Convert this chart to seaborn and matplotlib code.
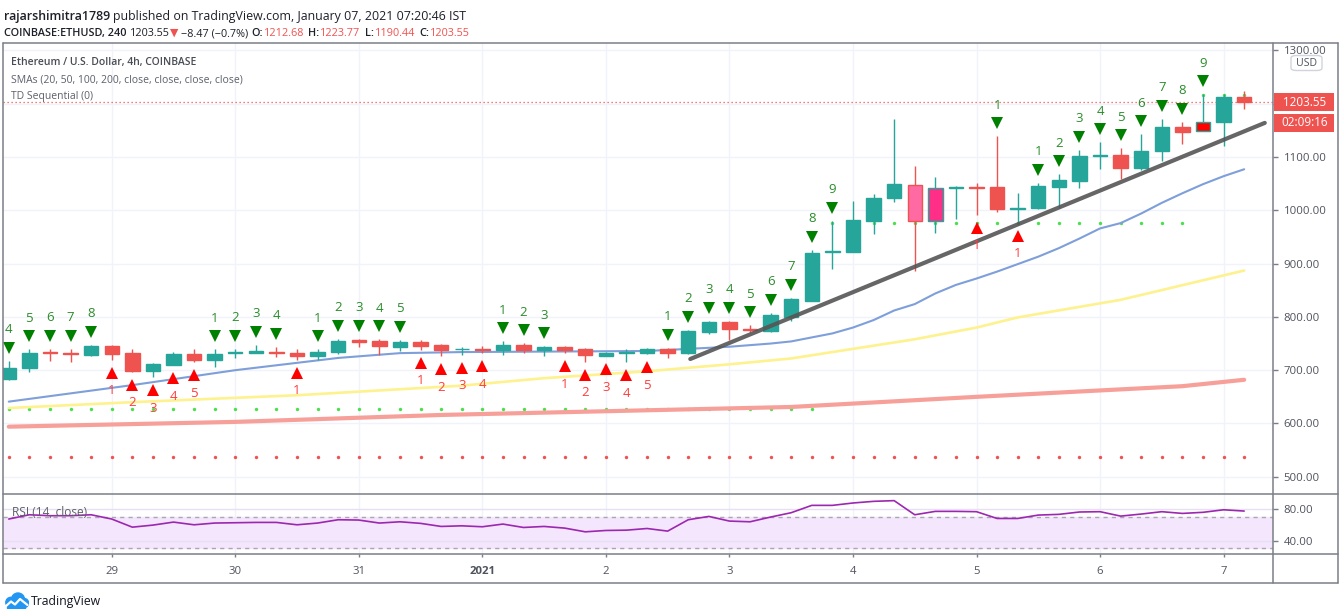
import numpy as np
import pandas as pd
import matplotlib
matplotlib.use("Agg")
import matplotlib.pyplot as plt
import matplotlib.transforms as mtransforms
from matplotlib.lines import Line2D
from matplotlib.patches import Rectangle, FancyBboxPatch, Circle
import seaborn as sns

# ---- values: COINBASE ETHUSD, 4h candles ----
opens = [683, 704, 734, 732, 729, 745, 732, 699, 710, 731,
         720, 732, 733, 735, 733, 726, 734, 757, 754, 744,
         753, 747, 739, 740, 738, 748, 738, 744, 739, 727,
         733, 732, 739, 732, 772, 790, 778, 774, 800, 830,
         921, 922, 980, 1023, 1048, 979, 1042, 1044, 1043, 1003,
         1004, 1044, 1055, 1101, 1104, 1079, 1111, 1157, 1149, 1165,
         1212.68]
highs = [718, 739, 740, 740, 748, 748, 739, 714, 735, 739,
         739, 740, 748, 744, 739, 739, 759, 759, 758, 757,
         756, 750, 744, 746, 754, 751, 745, 746, 741, 734,
         740, 742, 742, 776, 793, 793, 784, 808, 836, 926,
         980, 1017, 1030, 1171, 1083, 1062, 1046, 1052, 1139, 1032,
         1052, 1068, 1114, 1128, 1116, 1143, 1172, 1166, 1218, 1219,
         1223.77]
lows = [681, 697, 718, 716, 727, 720, 697, 687, 709, 715,
        706, 722, 732, 724, 720, 720, 731, 744, 729, 736,
        738, 726, 729, 732, 729, 732, 727, 732, 716, 726,
        715, 730, 723, 730, 768, 756, 771, 771, 793, 829,
        889, 921, 955, 1016, 886, 958, 983, 992, 996, 977,
        1003, 1005, 1041, 1077, 1058, 1075, 1093, 1124, 1148, 1120,
        1190.44]
closes = [705, 733, 732, 730, 745, 730, 699, 711, 731, 719,
          731, 735, 736, 733, 726, 735, 754, 753, 745, 752,
          746, 737, 740, 738, 748, 738, 744, 738, 729, 733,
          735, 739, 732, 773, 790, 777, 775, 803, 833, 920,
          923, 981, 1024, 1049, 979, 1042, 1044, 1042, 1003, 1005,
          1045, 1057, 1101, 1104, 1079, 1111, 1157, 1147, 1166, 1213,
          1203.55]

# moving averages (read at a few candles)
sma20_idx = [0, 6, 11, 16, 19, 22, 31, 35, 37, 38, 40, 41, 42, 43, 44, 45, 46,
             47, 48, 49, 50, 51, 52, 53, 54, 55, 56, 57, 58, 59, 60]
sma20_val = [641, 672, 700, 723, 732, 734, 736, 744, 750, 754, 769, 780, 794,
             812, 824, 844, 860, 872, 885, 899, 913, 929, 947, 966, 976, 994,
             1014, 1032, 1049, 1064, 1077]
sma50_idx = [0, 6, 14, 22, 26, 31, 35, 38, 41, 44, 47, 49, 54, 60]
sma50_val = [629, 640, 653, 671, 685, 698, 711, 722, 740, 758, 780, 799, 832, 887]
sma100_idx = [0, 11, 21, 29, 38, 47, 57, 60]
sma100_val = [594, 603, 616, 623, 631, 650, 670, 682]

# hand-drawn trend line
trend_idx = [33.1, 61.0]
trend_val = [721, 1164]

# TD Sequential setup counts
sell_idx = [0, 1, 2, 3, 4, 10, 11, 12, 13, 15, 16, 17, 18, 19, 24, 25, 26,
            32, 33, 34, 35, 36, 37, 38, 39, 40, 48,
            50, 51, 52, 53, 54, 55, 56, 57, 58]
sell_count = [4, 5, 6, 7, 8, 1, 2, 3, 4, 1, 2, 3, 4, 5, 1, 2, 3,
              1, 2, 3, 4, 5, 6, 7, 8, 9, 1,
              1, 2, 3, 4, 5, 6, 7, 8, 9]
buy_idx = [5, 6, 7, 8, 9, 14, 20, 21, 22, 23, 27, 28, 29, 30, 31, 47, 49]
buy_count = [1, 2, 3, 4, 5, 1, 1, 2, 3, 4, 1, 2, 3, 4, 5, 1, 1]

# TDST support / resistance levels
tdst_start = [0, 0, 40, 58]
tdst_end = [39, 60, 57, 60]
tdst_price = [627, 538, 977, 1216]
tdst_side = ["sell", "buy", "sell", "sell"]

rsi = [67.3, 72.7, 71.5, 71.5, 72.7, 67.3, 57.0, 59.6, 63.4, 60.0,
       62.2, 62.6, 63.0, 63.0, 60.0, 62.2, 66.4, 66.0, 62.2, 63.8,
       61.8, 57.9, 58.7, 57.5, 60.9, 56.6, 57.9, 55.8, 51.1, 52.8,
       53.2, 55.3, 52.0, 66.4, 70.6, 64.7, 63.8, 69.8, 75.3, 84.6,
       84.6, 87.6, 89.7, 90.6, 72.7, 77.0, 77.0, 76.6, 68.0, 68.0,
       72.3, 73.2, 76.2, 76.6, 71.0, 73.6, 76.6, 74.4, 75.8, 79.0,
       77.4]

date_idx = [5, 11, 17, 23, 29, 35, 41, 47, 53, 59]
date_labels = ["29", "30", "31", "2021", "2", "3", "4", "5", "6", "7"]
price_ticks = [500, 600, 700, 800, 900, 1000, 1100, 1200, 1300]
rsi_ticks = [40, 80]

# ---- styling ----
UP, DOWN = "#26a69a", "#ef5350"
GRID = "#f0f3fa"
FRAME = "#7b7e88"
AXTXT = "#50535e"
fill_override = {44: "#ff6aa3", 45: "#ff2e86", 58: "#ff0000"}

sns.set_theme(style="white")
plt.rcParams["font.family"] = ["Open Sans", "DejaVu Sans"]

W, H = 1342, 611
fig = plt.figure(figsize=(W / 100, H / 100), dpi=100)
fig.patch.set_facecolor("white")


def fx(x):
    return x / W


def fy(y):
    return 1 - y / H


candles = pd.DataFrame({"open": opens, "high": highs, "low": lows, "close": closes})
n = len(candles)

ax = fig.add_axes([fx(3), fy(494), fx(1273) - fx(3), fy(43) - fy(494)])
rax = fig.add_axes([fx(3), fy(554), fx(1273) - fx(3), fy(494) - fy(554)])
for a in (ax, rax):
    a.set_facecolor("white")
    a.set_xlim(-0.28, 61.4)
    for s in a.spines.values():
        s.set_visible(False)
    for d in date_idx:
        a.axvline(d, color=GRID, lw=1, zorder=0)

# ---- main price panel ----
ax.set_ylim(467.7, 1313.9)
for v in price_ticks:
    ax.axhline(v, color=GRID, lw=1, zorder=0)

# TDST dotted levels
for s, e, p, side in zip(tdst_start, tdst_end, tdst_price, tdst_side):
    xs = np.arange(s, e + 1)
    sns.scatterplot(x=xs, y=[p] * len(xs), color="#4be04b" if side == "sell" else "#f05252",
                    s=6, linewidth=0, ax=ax, zorder=1, legend=False)

# moving averages
sns.lineplot(x=sma100_idx, y=sma100_val, color="#f7a09a", linewidth=3.0, ax=ax, zorder=2)
sns.lineplot(x=sma50_idx, y=sma50_val, color="#fdf28e", linewidth=1.9, ax=ax, zorder=2)
sns.lineplot(x=sma20_idx, y=sma20_val, color="#7e9fd9", linewidth=1.5, ax=ax, zorder=2)

# last price line
ax.axhline(closes[-1], color=DOWN, lw=0.9, ls=(0, (1, 2.2)), zorder=2)

# candles
for i, row in candles.iterrows():
    col = UP if row.close >= row.open else DOWN
    ax.vlines(i, row.low, row.high, color=col, lw=1, zorder=3)
    lo, hi = sorted((row.open, row.close))
    ax.add_patch(Rectangle((i - 0.35, lo), 0.7, hi - lo, facecolor=fill_override.get(i, col),
                           edgecolor=col, lw=1, zorder=4))

# trend line
ax.plot(trend_idx, trend_val, color="#555555", lw=3.0, alpha=0.9, solid_capstyle="round", zorder=5)

# TD sequential markers
tri_up = mtransforms.offset_copy(ax.transData, fig=fig, y=13, units="dots")
num_up = mtransforms.offset_copy(ax.transData, fig=fig, y=31, units="dots")
tri_dn = mtransforms.offset_copy(ax.transData, fig=fig, y=-13, units="dots")
num_dn = mtransforms.offset_copy(ax.transData, fig=fig, y=-31, units="dots")

sell_hi = [highs[i] for i in sell_idx]
ax.plot(sell_idx, sell_hi, "v", color="#008000", ms=8.5, mew=0, transform=tri_up, zorder=6)
for i, c, h in zip(sell_idx, sell_count, sell_hi):
    ax.text(i, h, str(c), transform=num_up, ha="center", va="center", color="#2a8c2a",
            fontsize=9.5, zorder=6, clip_on=True)

buy_lo = [lows[i] for i in buy_idx]
ax.plot(buy_idx, buy_lo, "^", color="#ff0000", ms=8.5, mew=0, transform=tri_dn, zorder=6)
for i, c, l in zip(buy_idx, buy_count, buy_lo):
    ax.text(i, l, str(c), transform=num_dn, ha="center", va="center", color="#ff3c3c",
            fontsize=9.5, zorder=6, clip_on=True)

ax.set_xticks([])
ax.yaxis.tick_right()
ax.set_yticks(price_ticks)
# the 1200 label sits under the last-price box, as on the original
ax.set_yticklabels(["" if v == 1200 else f"{v:.2f}" for v in price_ticks])
ax.tick_params(axis="y", which="both", right=True, left=False, length=3.6, width=1,
               color=FRAME, labelsize=8.2, labelcolor=AXTXT, pad=4)

# ---- RSI panel ----
rax.set_ylim(23, 99)
rax.axhspan(30, 70, color="#f3e6fd", zorder=0)
for v in rsi_ticks:
    rax.axhline(v, color="#e6e0f2", lw=1, zorder=1)
for v in (70, 30):
    rax.axhline(v, color="#a9a7b0", lw=1, ls=(0, (3, 3)), zorder=1)
sns.lineplot(x=np.arange(n), y=rsi, color="#9c27b0", linewidth=1.2, ax=rax, zorder=3)

rax.yaxis.tick_right()
rax.set_yticks(rsi_ticks)
rax.set_yticklabels([f"{v:.2f}" for v in rsi_ticks])
rax.set_xticks(date_idx)
rax.set_xticklabels(date_labels)
rax.tick_params(axis="y", right=True, left=False, length=3.6, width=1, color=FRAME,
                labelsize=8.2, labelcolor=AXTXT, pad=4)
rax.tick_params(axis="x", bottom=True, length=2.5, width=1, color=FRAME,
                labelsize=8.2, labelcolor=AXTXT, pad=6)
for lbl in rax.get_xticklabels():
    if lbl.get_text() == "2021":
        lbl.set_fontweight("bold")
for a in (ax, rax):
    a.set_xlabel("")
    a.set_ylabel("")

# ---- frame lines ----
frame = [((3, 43), (1338, 43)), ((3, 583), (1338, 583)), ((3, 43), (3, 583)),
         ((1338, 43), (1338, 583)), ((1273, 43), (1273, 583)),
         ((3, 494), (1338, 494)), ((3, 554), (1338, 554))]
for (x0, y0), (x1, y1) in frame:
    fig.add_artist(Line2D([fx(x0), fx(x1)], [fy(y0), fy(y1)], color=FRAME, lw=1.1,
                          transform=fig.transFigure))

# price label boxes
fig.add_artist(Rectangle((fx(1274), fy(111.5)), fx(1334) - fx(1274), fy(93) - fy(111.5),
                         facecolor=DOWN, edgecolor="none", transform=fig.transFigure, zorder=5))
fig.add_artist(Rectangle((fx(1274), fy(131.5)), fx(1334) - fx(1274), fy(113.5) - fy(131.5),
                         facecolor=DOWN, edgecolor="none", transform=fig.transFigure, zorder=5))
fig.text(fx(1305), fy(102.5), f"{closes[-1]:.2f}", color="white", fontsize=8.4,
         ha="center", va="center", zorder=6)
fig.text(fx(1305), fy(122.5), "02:09:16", color="white", fontsize=8.4,
         ha="center", va="center", zorder=6)

# USD button
fig.add_artist(FancyBboxPatch((fx(1291), fy(70.5)), fx(1322) - fx(1291), fy(55.5) - fy(70.5),
                              boxstyle="round,pad=0,rounding_size=0.004", facecolor="white",
                              edgecolor="#d1d4dc", lw=1, transform=fig.transFigure, zorder=5))
fig.text(fx(1306.5), fy(63), "USD", color=AXTXT, fontsize=7.6, ha="center", va="center", zorder=6)

# ---- legend texts inside the chart ----
fig.text(fx(11), fy(63), "Ethereum / U.S. Dollar, 4h, COINBASE", color="#4a4c55",
         fontsize=7.5, fontweight="semibold", va="center")
fig.text(fx(11), fy(80.5), "SMAs (20, 50, 100, 200, close, close, close, close)",
         color="#5d606b", fontsize=7.5, va="center")
fig.text(fx(11), fy(96.5), "TD Sequential (0)", color="#5d606b", fontsize=7.5, va="center")
fig.text(fx(12), fy(512), "RSI (14, close)", color="#5d606b", fontsize=8.6, va="center")


# ---- header lines ----
def chain(parts, x0, y0, size):
    s, c, w, g = parts[0]
    prev = fig.text(fx(x0), fy(y0), s, color=c, fontweight=w, fontsize=size,
                    ha="left", va="baseline")
    for s, c, w, g in parts[1:]:
        prev = ax.annotate(s, xy=(1, 0), xycoords=prev, xytext=(g * 0.72, 0),
                           textcoords="offset points", color=c, fontweight=w,
                           fontsize=size, ha="left", va="bottom", annotation_clip=False)


DARK = "#1e2029"
chain([("rajarshimitra1789", DARK, "semibold", 0),
       ("published on TradingView.com, January 07, 2021 07:20:46 IST", DARK, "normal", 3)],
      4, 20, 8.9)
chain([("COINBASE:ETHUSD, 240", DARK, "semibold", 0),
       ("1203.55", DARK, "normal", 3), ("▼", DOWN, "normal", 1),
       ("−8.47 (−0.7%)", DARK, "normal", 2),
       ("O:", DARK, "semibold", 3), ("1212.68", DOWN, "normal", 1),
       ("H:", DARK, "semibold", 4), ("1223.77", DOWN, "normal", 1),
       ("L:", DARK, "semibold", 4), ("1190.44", DOWN, "normal", 1),
       ("C:", DARK, "semibold", 4), ("1203.55", DOWN, "normal", 1)],
      4, 36, 7.8)

# ---- TradingView logo ----
lax = fig.add_axes([fx(3), fy(609), fx(29) - fx(3), fy(592) - fy(609)])
lax.set_xlim(0, 26)
lax.set_ylim(17, 0)
lax.axis("off")
blue = "#2196f3"
lax.add_patch(Circle((8, 10.5), 5.2, color=blue))
lax.add_patch(Circle((15, 7.5), 6.5, color=blue))
lax.add_patch(Circle((21, 11), 4.6, color=blue))
lax.add_patch(Rectangle((3.5, 10.5), 18.5, 5.1, color=blue))
lax.plot([2.5, 8, 12, 17, 24.5], [14.5, 9.5, 12.5, 7, 13], color="white", lw=1.6,
         solid_joinstyle="round")
fig.text(fx(31), fy(602), "TradingView", color="#131722", fontsize=8.8, va="center")

fig.savefig("out.png", dpi=100, facecolor="white")
